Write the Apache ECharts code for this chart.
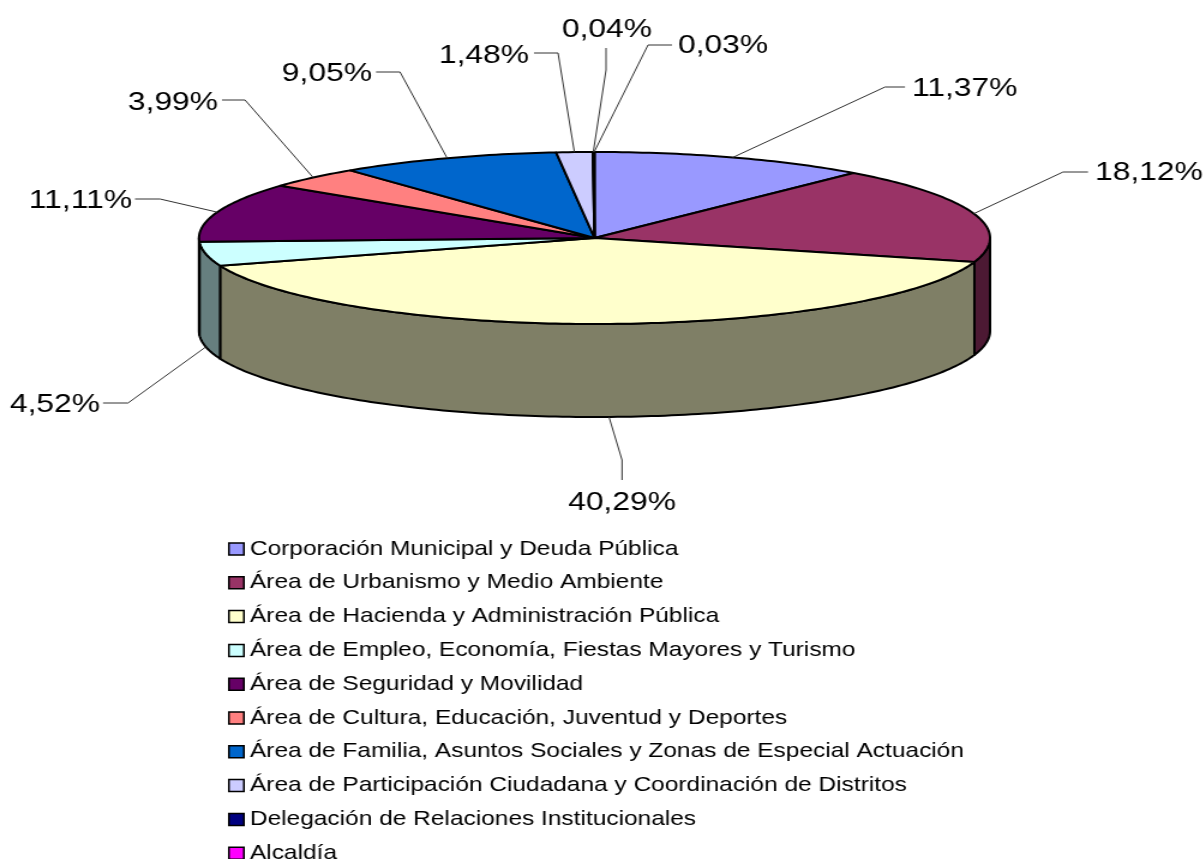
<!DOCTYPE html>
<html>
<head>
<meta charset="utf-8">
<script src="https://cdn.jsdelivr.net/npm/echarts@6/dist/echarts.min.js"></script>
<style>
html,body{margin:0;padding:0;background:#fff;overflow:hidden;width:1204px;height:859px}
#chart{position:absolute;left:0;top:0;height:900px;transform-origin:0 0}
</style>
</head>
<body>
<div id="chart"></div>
<script>
// ---- data ----
const categories = [
  'Corporación Municipal y Deuda Pública',
  'Área de Urbanismo y Medio Ambiente',
  'Área de Hacienda y Administración Pública',
  'Área de Empleo, Economía, Fiestas Mayores y Turismo',
  'Área de Seguridad y Movilidad',
  'Área de Cultura, Educación, Juventud y Deportes',
  'Área de Familia, Asuntos Sociales y Zonas de Especial Actuación',
  'Área de Participación Ciudadana y Coordinación de Distritos',
  'Delegación de Relaciones Institucionales',
  'Alcaldía'
];
const shares = [11.37, 18.12, 40.29, 4.52, 11.11, 3.99, 9.05, 1.48, 0.04, 0.03];

// ---- styles / layout ----
const topColors  = ['#9999FF','#993366','#FFFFCC','#CCFFFF','#660066','#FF8080','#0066CC','#CCCCFF','#000080','#FF00FF'];
const sideColors = ['#4C4C7F','#4C1933','#7F7F66','#667F7F','#330033','#7F4040','#003366','#66667F','#000040','#7F007F'];
const SX = 1.2;                 // the picture is stretched horizontally
const CX = 594.5, CY = 238, RX = 395.5, RY = 86, DEPTH = 93;
const FONT = '"Liberation Sans", Arial, sans-serif';
// leader elbow, leader end, text anchor [x, y, align] in page pixels; onSide = leader starts on the wall
const leaders = [
  {elbow:[885,87],  end:[905,87],  text:[912,89,'left']},
  {elbow:[1063,172],end:[1088,172],text:[1095,173,'left']},
  {elbow:[622,460], end:[622,480], text:[622,503,'center'], start:[609,417]},
  {elbow:[128,403], end:[103,403], text:[100,405,'right'], onSide:true},
  {elbow:[160,199], end:[135,199], text:[132,201,'right']},
  {elbow:[245,100], end:[222,100], text:[218,103,'right']},
  {elbow:[400,72],  end:[376,72],  text:[372,74,'right']},
  {elbow:[558,53],  end:[534,53],  text:[529,56,'right']},
  {elbow:[606,70],  end:[606,48],  text:[607,30,'center']},
  {elbow:[648,45],  end:[672,45],  text:[678,46,'left']}
];

const total = shares.reduce((a, b) => a + b, 0);
const px = x => x / SX;
function pt(deg, dy) {
  const r = deg * Math.PI / 180;
  return [px(CX + RX * Math.sin(r)), CY - RY * Math.cos(r) + (dy || 0)];
}
function arc(a, b, dy) {
  const n = Math.max(1, Math.ceil(Math.abs(b - a)));
  const out = [];
  for (let i = 0; i <= n; i++) out.push(pt(a + (b - a) * i / n, dy));
  return out;
}
function renderSlice(idx) {
  return function (params, api) {
    const v = api.value(0);
    let before = 0;
    for (let i = 0; i < idx; i++) before += shares[i];
    const a0 = before / total * 360, a1 = (before + v) / total * 360, mid = (a0 + a1) / 2;
    const children = [];
    // visible wall: the front half of the disc only
    const s0 = Math.max(a0, 90), s1 = Math.min(a1, 270);
    if (s1 > s0) {
      children.push({
        type: 'polygon',
        shape: {points: arc(s0, s1, 0).concat(arc(s1, s0, DEPTH))},
        style: {fill: sideColors[idx], stroke: '#000', lineWidth: 2, lineJoin: 'round'}
      });
    }
    children.push({
      type: 'polygon',
      shape: {points: [[px(CX), CY]].concat(arc(a0, a1, 0))},
      style: {fill: topColors[idx], stroke: '#000', lineWidth: 2, lineJoin: 'round'}
    });
    const l = leaders[idx];
    const from = l.start ? [px(l.start[0]), l.start[1]] : pt(mid, l.onSide ? DEPTH : 0);
    children.push({
      type: 'polyline',
      z2: 5,
      shape: {points: [from, [px(l.elbow[0]), l.elbow[1]], [px(l.end[0]), l.end[1]]]},
      style: {fill: null, stroke: '#333', lineWidth: 1}
    });
    children.push({
      type: 'text',
      z2: 6,
      style: {
        text: v.toFixed(2).replace('.', ',') + '%',
        x: px(l.text[0]), y: l.text[1],
        align: l.text[2], verticalAlign: 'middle',
        fill: '#000', fontSize: 26.5, fontFamily: FONT
      }
    });
    return {type: 'group', children};
  };
}

const el = document.getElementById('chart');
el.style.width = (1204 / SX) + 'px';
el.style.transform = 'scaleX(' + SX + ')';
const chart = echarts.init(el, null, {renderer: 'canvas'});
chart.setOption({
  animation: false,
  backgroundColor: '#fff',
  legend: {
    orient: 'vertical',
    left: px(228),
    top: 539,
    padding: 0,
    itemWidth: 12.5,
    itemHeight: 12,
    itemGap: 13.8,
    icon: 'rect',
    selectedMode: false,
    itemStyle: {borderColor: '#000', borderWidth: 1.5},
    textStyle: {fontSize: 20.4, fontFamily: FONT, color: '#000'},
    data: categories
  },
  series: categories.map((name, i) => ({
    type: 'custom',
    name,
    coordinateSystem: 'none',
    itemStyle: {color: topColors[i]},
    silent: true,
    clip: false,
    renderItem: renderSlice(i),
    data: [[shares[i]]]
  }))
});
</script>
</body>
</html>
